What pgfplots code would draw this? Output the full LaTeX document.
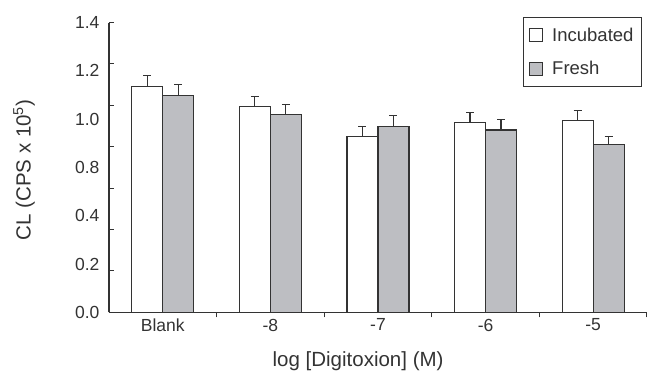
\documentclass[border=0pt]{standalone}
\usepackage{fontspec}
\setmainfont{Liberation Sans}
\usepackage{pgfplots}
\pgfplotsset{compat=1.18}
\definecolor{txt}{HTML}{333333}
\definecolor{freshgray}{HTML}{BDBEC2}
\begin{document}
\begin{tikzpicture}
\begin{axis}[
  scale only axis, width=538pt, height=289.7pt,
  xmin=-0.5, xmax=4.5, ymin=0, ymax=1.4,
  axis lines*=left,
  axis line style={line width=1.3pt, color=txt},
  tick style={line width=1pt, color=txt},
  tick align=inside, major tick length=5pt,
  xtick={0.5,1.5,2.5,3.5,4.5}, xticklabels={},
  extra x ticks={0,1,2,3,4},
  extra x tick labels={Blank,-8,-7,-6,-5},
  extra x tick style={major tick length=0pt, tick label style={yshift=-3pt}},
  ytick={0,0.2,0.4,0.6,0.8,1.0,1.2,1.4}, yticklabels={},
  extra y ticks={0,0.233333,0.466667,0.7,0.933333,1.166667,1.4},
  extra y tick labels={0.0,0.2,0.4,0.8,1.0,1.2,1.4},
  extra y tick style={major tick length=0pt, tick label style={xshift=-6pt}},
  tick label style={font=\fontsize{17.5}{20}\selectfont, text=txt},
  ybar=0pt, bar width=31pt,
  xlabel={log [Digitoxion] (M)},
  ylabel={CL (CPS x 10\textsuperscript{5})},
  label style={font=\fontsize{20.5}{24}\selectfont, text=txt},
  xlabel style={at={(axis description cs:0.463,0)}, anchor=center, yshift=-49pt},
  ylabel style={at={(axis description cs:-0.158,0.491)}, anchor=center},
  legend style={at={(rel axis cs:0.9907,1.019)}, anchor=north east,
    draw=txt, line width=1pt, fill=white,
    font=\fontsize{18.5}{21}\selectfont, text=txt,
    row sep=15pt, inner xsep=6pt, inner ysep=8pt,
    /tikz/every odd column/.append style={column sep=7pt},
    /tikz/every even column/.append style={column sep=4pt}},
  legend cell align=left,
  legend image code/.code={\draw[#1, line width=0.8pt] (0pt,-6.5pt) rectangle (13pt,6.5pt);},
]
\addplot[fill=white, draw=txt, line width=1.2pt,
  error bars/.cd, y dir=plus, y explicit,
  error bar style={line width=1.2pt, color=txt},
  error mark options={rotate=90, mark size=4pt, line width=1.2pt, color=txt}]
  table[x=x, y=y, y error=e] {
x y e
0 1.093 0.050
1 0.993 0.050
2 0.850 0.049
3 0.916 0.048
4 0.926 0.050
};
\addlegendentry{Incubated}
\addplot[fill=freshgray, draw=txt, line width=1.2pt,
  error bars/.cd, y dir=plus, y explicit,
  error bar style={line width=1.2pt, color=txt},
  error mark options={rotate=90, mark size=4pt, line width=1.2pt, color=txt}]
  table[x=x, y=y, y error=e] {
x y e
0 1.047 0.053
1 0.955 0.051
2 0.899 0.051
3 0.881 0.050
4 0.812 0.037
};
\addlegendentry{Fresh}
\coordinate (O) at (rel axis cs:0,0);
\end{axis}
\pgfresetboundingbox
\path[use as bounding box] ([shift={(-109pt,-60.7pt)}]O) rectangle ++(649pt,373pt);
\end{tikzpicture}
\end{document}
